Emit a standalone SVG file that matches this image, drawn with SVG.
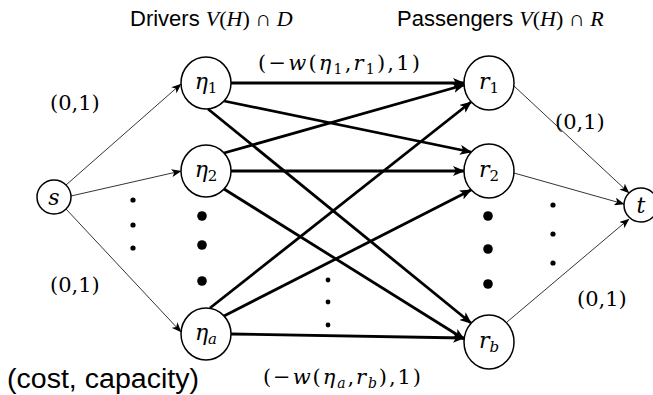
<svg xmlns="http://www.w3.org/2000/svg" width="653" height="395" viewBox="0 0 653 395">
<style>
.node{fill:#fff;stroke:#000;stroke-width:1.5}
.thick{stroke:#000;stroke-width:2.8;fill:none;marker-end:url(#ah)}
.thin{stroke:#000;stroke-width:0.8;fill:none;marker-end:url(#at)}
.math{font-family:"DejaVu Serif","Liberation Serif",serif;fill:#000}
.hm{font-family:"Liberation Serif","DejaVu Serif",serif;fill:#000}
.it{font-style:italic}
.sans{font-family:"Liberation Sans",Arial,sans-serif;fill:#000}
.lbl{font-size:22px;text-anchor:middle}
.dot{fill:#000}
</style>
<defs>
<marker id="ah" markerUnits="userSpaceOnUse" viewBox="0 0 12 10" refX="11" refY="5" markerWidth="12" markerHeight="10" orient="auto">
<path d="M0,0 L12,5 L0,10 L3,5 z" fill="#000"/>
</marker>
<marker id="at" markerUnits="userSpaceOnUse" viewBox="0 0 10 8" refX="9.5" refY="4" markerWidth="10" markerHeight="8" orient="auto">
<path d="M0,0 L10,4 L0,8 L2.5,4 z" fill="#000"/>
</marker>
</defs>

<g id="headings">
<text x="130" y="26" font-size="22"><tspan class="sans">Drivers </tspan><tspan class="hm it">V</tspan><tspan class="hm">(</tspan><tspan class="hm it">H</tspan><tspan class="hm">) ∩ </tspan><tspan class="hm it">D</tspan></text>
<text x="397" y="26" font-size="22"><tspan class="sans">Passengers </tspan><tspan class="hm it">V</tspan><tspan class="hm">(</tspan><tspan class="hm it">H</tspan><tspan class="hm">) ∩ </tspan><tspan class="hm it">R</tspan></text>
</g>

<g id="connectors">
<path class="thin" d="M66,185 L181,84"/>
<path class="thin" d="M71,196 L181,171"/>
<path class="thin" d="M66,209 L181,332"/>
<path class="thin" d="M514,86 L629,193"/>
<path class="thin" d="M514,173 L624,204"/>
<path class="thin" d="M507,322 L629,219"/>
<path class="thick" d="M231,83 L464,83"/>
<path class="thick" d="M224,101 L471,152"/>
<path class="thick" d="M208,109 L471,323"/>
<path class="thick" d="M224,153 L464,85"/>
<path class="thick" d="M231,171 L464,171"/>
<path class="thick" d="M224,189 L464,339"/>
<path class="thick" d="M210,308 L471,102"/>
<path class="thick" d="M224,316 L471,190"/>
<path class="thick" d="M231,334 L464,338"/>
</g>

<g id="node-s"><circle class="node" cx="54" cy="197" r="17"/><text class="math it lbl" x="54" y="205">s</text></g>
<g id="node-t"><circle class="node" cx="641" cy="205" r="17"/><text class="math it lbl" x="641" y="213">t</text></g>
<g id="node-eta1"><ellipse class="node" cx="206" cy="83" rx="25" ry="26"/><text class="math lbl" x="206" y="89"><tspan class="it">η</tspan><tspan font-size="15" dy="4">1</tspan></text></g>
<g id="node-eta2"><ellipse class="node" cx="206" cy="171" rx="25" ry="26"/><text class="math lbl" x="206" y="177"><tspan class="it">η</tspan><tspan font-size="15" dy="4">2</tspan></text></g>
<g id="node-etaa"><ellipse class="node" cx="206" cy="334" rx="25" ry="26"/><text class="math lbl" x="206" y="340"><tspan class="it">η</tspan><tspan class="it" font-size="15" dy="4">a</tspan></text></g>
<g id="node-r1"><ellipse class="node" cx="489" cy="83" rx="25" ry="27"/><text class="math lbl" x="489" y="89"><tspan class="it">r</tspan><tspan font-size="15" dy="4">1</tspan></text></g>
<g id="node-r2"><ellipse class="node" cx="489" cy="171" rx="25" ry="27"/><text class="math lbl" x="489" y="177"><tspan class="it">r</tspan><tspan font-size="15" dy="4">2</tspan></text></g>
<g id="node-rb"><ellipse class="node" cx="489" cy="342" rx="25" ry="27"/><text class="math lbl" x="489" y="348"><tspan class="it">r</tspan><tspan class="it" font-size="15" dy="4">b</tspan></text></g>

<g id="dots">
<circle class="dot" cx="133" cy="200" r="2.6"/><circle class="dot" cx="133" cy="225" r="2.6"/><circle class="dot" cx="133" cy="248" r="2.6"/>
<circle class="dot" cx="202" cy="216" r="4.8"/><circle class="dot" cx="202" cy="245" r="4.8"/><circle class="dot" cx="202" cy="281" r="4.8"/>
<circle class="dot" cx="328" cy="280" r="2.4"/><circle class="dot" cx="328" cy="302" r="2.4"/><circle class="dot" cx="328" cy="325" r="2.4"/>
<circle class="dot" cx="488" cy="216" r="4.8"/><circle class="dot" cx="488" cy="249" r="4.8"/><circle class="dot" cx="488" cy="284" r="4.8"/>
<circle class="dot" cx="553" cy="205" r="2.6"/><circle class="dot" cx="553" cy="234" r="2.6"/><circle class="dot" cx="553" cy="263" r="2.6"/>
</g>

<g id="labels">
<text class="math" x="258" y="70" font-size="21" textLength="162" lengthAdjust="spacing">(−<tspan class="it">w</tspan>(<tspan class="it">η</tspan><tspan font-size="14" dy="4">1</tspan><tspan dy="-4">,</tspan><tspan class="it">r</tspan><tspan font-size="14" dy="4">1</tspan><tspan dy="-4">),1)</tspan></text>
<text class="math" x="263" y="384" font-size="21" textLength="158" lengthAdjust="spacing">(−<tspan class="it">w</tspan>(<tspan class="it">η</tspan><tspan class="it" font-size="14" dy="4">a</tspan><tspan dy="-4">,</tspan><tspan class="it">r</tspan><tspan class="it" font-size="14" dy="4">b</tspan><tspan dy="-4">),1)</tspan></text>
<text class="math" x="50" y="110" font-size="21">(0,1)</text>
<text class="math" x="50" y="292" font-size="21">(0,1)</text>
<text class="math" x="555" y="129" font-size="21">(0,1)</text>
<text class="math" x="577" y="306" font-size="21">(0,1)</text>
<text class="sans" x="7" y="388" font-size="27" textLength="192" lengthAdjust="spacingAndGlyphs">(cost, capacity)</text>
</g>
</svg>
